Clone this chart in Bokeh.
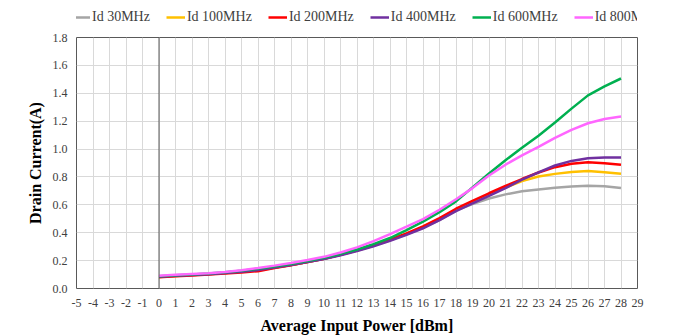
from bokeh.plotting import figure
from bokeh.layouts import column
from bokeh.models import (Range1d, FixedTicker, Legend, LegendItem, Span,
                          PrintfTickFormatter)
from bokeh.embed import file_html
from bokeh.resources import INLINE

# ---- data ----
x_dbm = list(range(0, 29))
x_ticks = list(range(-5, 30))
y_ticks = [0.0, 0.2, 0.4, 0.6, 0.8, 1.0, 1.2, 1.4, 1.6, 1.8]

id_30 = [0.085, 0.092, 0.098, 0.104, 0.112, 0.122, 0.134, 0.150, 0.168, 0.190,
         0.214, 0.241, 0.272, 0.306, 0.345, 0.388, 0.437, 0.490, 0.560, 0.605,
         0.645, 0.675, 0.697, 0.710, 0.722, 0.732, 0.737, 0.733, 0.720]
id_100 = [0.082, 0.090, 0.097, 0.103, 0.111, 0.120, 0.132, 0.149, 0.168, 0.190,
          0.214, 0.242, 0.273, 0.308, 0.347, 0.392, 0.442, 0.500, 0.565, 0.622,
          0.676, 0.724, 0.770, 0.803, 0.822, 0.835, 0.842, 0.834, 0.823]
id_200 = [0.080, 0.087, 0.094, 0.100, 0.108, 0.115, 0.124, 0.146, 0.167, 0.190,
          0.214, 0.242, 0.274, 0.310, 0.350, 0.395, 0.446, 0.505, 0.572, 0.628,
          0.683, 0.735, 0.785, 0.832, 0.870, 0.895, 0.905, 0.898, 0.888]
id_400 = [0.085, 0.091, 0.097, 0.103, 0.111, 0.120, 0.133, 0.150, 0.168, 0.190,
          0.212, 0.238, 0.268, 0.302, 0.342, 0.385, 0.432, 0.490, 0.555, 0.610,
          0.664, 0.720, 0.780, 0.833, 0.882, 0.915, 0.934, 0.940, 0.940]
id_600 = [0.088, 0.095, 0.101, 0.108, 0.116, 0.127, 0.141, 0.157, 0.176, 0.197,
          0.220, 0.248, 0.280, 0.318, 0.362, 0.418, 0.480, 0.548, 0.625, 0.725,
          0.825, 0.920, 1.010, 1.095, 1.190, 1.290, 1.385, 1.450, 1.506]
id_800 = [0.092, 0.098, 0.104, 0.110, 0.119, 0.131, 0.147, 0.164, 0.183, 0.204,
          0.227, 0.258, 0.295, 0.340, 0.390, 0.443, 0.498, 0.565, 0.640, 0.720,
          0.810, 0.888, 0.955, 1.015, 1.080, 1.138, 1.185, 1.215, 1.233]

series_names = ["Id 30MHz", "Id 100MHz", "Id 200MHz", "Id 400MHz", "Id 600MHz", "Id 800MHz"]
series_vals = [id_30, id_100, id_200, id_400, id_600, id_800]
series_colors = ["#A5A5A5", "#FFC000", "#FF0000", "#7030A0", "#00B050", "#FF66FF"]

FONT = "Liberation Serif"

# ---------- legend strip (separate small figure on top, no axes) ----------
leg_fig = figure(width=676, height=32, output_backend="svg", toolbar_location=None,
                 x_range=Range1d(0, 1), y_range=Range1d(10, 11),
                 x_axis_location=None, y_axis_location=None,
                 min_border_left=0, min_border_right=0, min_border_top=0,
                 min_border_bottom=0)
leg_fig.grid.visible = False
leg_fig.outline_line_color = None
leg_fig.background_fill_color = "white"
leg_fig.border_fill_color = "white"

leg_items = []
for name, vals, col in zip(series_names, series_vals, series_colors):
    r = leg_fig.line(x_dbm, vals, line_color=col, line_width=2.5)
    leg_items.append(LegendItem(label=name, renderers=[r]))

legend = Legend(items=leg_items, orientation="horizontal", location=(-5, 7),
                glyph_width=19, glyph_height=14, label_height=14,
                label_standoff=2, spacing=16, padding=0, margin=0,
                border_line_color=None, background_fill_alpha=0,
                label_text_font=FONT, label_text_font_size="14px",
                label_text_color="#404040")
leg_fig.add_layout(legend, "center")

# ---------- main chart ----------
p = figure(width=676, height=304, output_backend="svg", toolbar_location=None,
           x_range=Range1d(-5, 29), y_range=Range1d(0, 1.8),
           min_border_left=76, min_border_right=39, min_border_top=5,
           min_border_bottom=46)

p.outline_line_color = "#595959"
p.outline_line_width = 1
p.background_fill_color = "white"
p.border_fill_color = "white"

p.xgrid.ticker = FixedTicker(ticks=x_ticks)
p.ygrid.ticker = FixedTicker(ticks=y_ticks)
p.xgrid.grid_line_color = "#d9d9d9"
p.ygrid.grid_line_color = "#d9d9d9"

p.xaxis.ticker = FixedTicker(ticks=x_ticks)
p.yaxis.ticker = FixedTicker(ticks=y_ticks)
p.xaxis.formatter = PrintfTickFormatter(format="%d")
p.yaxis.formatter = PrintfTickFormatter(format="%.1f")
for ax in (p.xaxis[0], p.yaxis[0]):
    ax.axis_line_color = None
    ax.major_tick_line_color = None
    ax.minor_tick_line_color = None
    ax.major_tick_out = 0
    ax.major_tick_in = 0
    ax.major_label_text_font = FONT
    ax.major_label_text_font_size = "12px"
    ax.major_label_text_color = "#404040"
    ax.axis_label_text_font = FONT
    ax.axis_label_text_font_style = "bold"
    ax.axis_label_text_font_size = "16px"
    ax.axis_label_text_color = "#000000"
p.xaxis.axis_label = "Average Input Power [dBm]"
p.yaxis.axis_label = "Drain Current(A)"
p.xaxis.major_label_standoff = 10
p.yaxis.major_label_standoff = 9
p.xaxis.axis_label_standoff = 7
p.yaxis.axis_label_standoff = 6

p.add_layout(Span(location=0, dimension="height", line_color="#595959", line_width=1))

for name, vals, col in zip(series_names, series_vals, series_colors):
    p.line(x_dbm, vals, line_color=col, line_width=2.5)

layout = column(leg_fig, p, spacing=0)

open("out.html", "w").write(file_html(layout, INLINE))
